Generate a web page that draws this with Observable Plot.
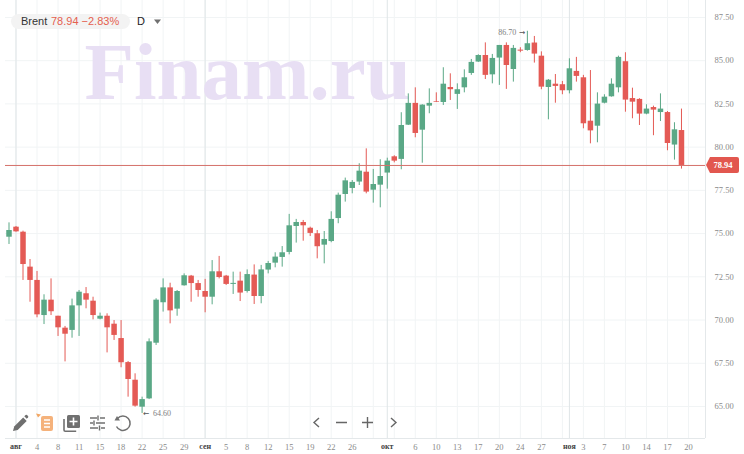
<!DOCTYPE html>
<html><head><meta charset="utf-8">
<script src="https://cdn.jsdelivr.net/npm/d3@7"></script>
<script src="https://cdn.jsdelivr.net/npm/@observablehq/plot@0.6"></script>
<style>
html,body{margin:0;padding:0;background:#fff}
#wrap{position:relative;width:744px;height:454px;overflow:hidden}
#wrap svg.plot{position:absolute;left:0;top:0}
.hdr{position:absolute;left:11px;top:14px;height:15px;width:119px;background:#f3f3f3;border-radius:8px;font:11px/15px "Liberation Sans",Arial,sans-serif;color:#333;white-space:nowrap}
.hdr span.n{position:absolute;left:10px}
.hdr span.r{position:absolute;left:40px;color:#e5604f}
.per{position:absolute;left:137px;top:14px;font:11px/15px "Liberation Sans",Arial,sans-serif;color:#222}
.tools{position:absolute;left:0;top:0}
</style></head><body><div id="wrap"></div>
<script>
const opens=[74.79,75.37,75.08,73.06,72.29,70.26,71.15,70.22,69.53,69.40,70.82,71.52,71.09,70.05,70.22,69.76,68.93,67.54,66.52,64.96,65.44,68.66,71.00,71.86,70.63,71.98,72.54,72.11,71.65,71.32,72.79,72.54,72.06,72.25,71.65,72.60,71.36,72.89,73.29,73.62,73.91,75.41,75.64,75.31,74.99,74.33,74.54,75.87,77.26,77.61,77.98,78.55,77.51,77.80,78.50,79.44,79.29,81.27,82.53,80.98,82.37,82.64,82.58,83.45,83.05,83.43,84.26,84.92,85.30,84.18,85.15,85.88,84.49,85.61,85.59,86.02,85.26,83.45,83.64,83.61,83.26,84.38,84.01,81.50,81.21,82.54,82.91,83.43,84.94,82.81,82.76,81.91,82.29,82.00,82.00,80.12,80.96];
const highs=[75.62,75.41,75.14,73.50,72.81,71.46,72.38,70.22,69.63,71.21,71.71,71.88,71.32,70.40,70.36,69.97,69.97,67.60,66.89,65.54,68.91,71.23,72.38,72.13,71.71,72.67,72.58,72.29,72.35,73.44,73.68,72.58,72.77,72.77,72.90,73.19,73.16,73.39,73.89,74.25,76.11,75.82,75.76,75.37,75.18,75.12,76.26,77.34,78.21,78.07,79.04,79.90,78.71,79.27,79.36,79.50,81.99,83.08,83.43,82.45,83.37,83.14,84.59,84.24,83.66,84.47,85.07,85.34,86.03,85.36,85.88,86.03,85.88,85.75,86.70,86.40,85.51,83.91,84.20,83.80,85.11,85.19,84.15,84.43,83.14,83.03,83.95,85.26,85.46,83.41,82.80,82.45,82.37,83.08,82.06,81.41,82.20];
const lows=[74.37,75.08,72.29,71.03,70.13,69.74,70.26,69.05,67.58,68.95,69.05,70.65,70.01,70.01,68.10,68.82,67.24,65.54,64.96,64.60,65.40,68.53,70.46,69.78,70.22,71.96,71.03,71.32,70.42,70.88,72.38,72.00,71.48,71.07,71.56,70.90,70.94,72.67,73.02,73.06,73.77,74.45,74.56,74.83,73.54,73.25,74.47,75.57,76.82,77.30,77.78,77.30,76.76,76.49,77.57,79.09,78.69,81.25,80.54,79.07,81.93,82.58,82.41,82.70,82.18,83.14,84.15,84.90,83.91,83.66,83.57,83.34,83.76,85.46,85.55,84.86,83.32,81.58,82.54,83.03,83.08,83.76,81.06,80.19,80.25,82.50,82.89,83.14,82.02,81.64,81.25,81.87,80.66,81.48,79.79,79.25,78.73];
const closes=[75.18,75.10,73.21,72.29,70.30,71.15,70.48,69.55,69.18,70.82,71.61,71.15,70.26,70.22,69.55,69.11,67.53,66.56,65.02,65.40,68.74,71.15,71.86,70.53,71.65,72.56,72.11,71.71,71.32,72.79,72.46,72.06,72.12,71.56,72.63,71.36,72.90,73.27,73.64,73.89,75.45,75.64,75.45,75.01,74.24,74.66,75.82,77.22,78.05,77.96,78.61,77.40,77.84,78.30,79.19,79.19,81.25,82.53,80.79,82.43,82.53,82.60,83.64,83.32,83.32,84.01,84.90,85.30,84.15,85.13,85.88,84.72,85.71,85.55,85.98,85.38,83.47,83.87,83.51,83.26,84.53,84.09,81.35,80.94,82.49,82.89,83.64,85.19,82.72,82.60,81.91,82.20,82.14,82.20,80.21,81.00,78.94];

const yTicks=[65,67.5,70,72.5,75,77.5,80,82.5,85,87.5];
const gridBars=[1,4,7,10,13,16,19,22,25,28,31,34,37,40,43,46,49,52,55,58,61,64,67,70,73,76,79,82,85,88,91,94,97];
const dayBars=[4,7,10,13,16,19,22,25,31,34,37,40,43,46,49,58,61,64,67,70,73,76,82,85,88,91,94,97];
const dayLabels=["4","8","11","15","18","22","25","29","5","8","12","15","19","22","26","6","10","13","17","20","24","27","3","7","10","14","17","20"];
const monthBars=[1,28,54,80];
const monthLabels=["авг","сен","окт","ноя"];
const lastPrice=78.94, highBar=74, highValue=86.70, lowBar=19, lowValue=64.60;

const up="#5aa886", down="#e45a55";
const bars=opens.map((o,i)=>({i,o,c:closes[i],h:highs[i],l:lows[i],col:closes[i]>=o?up:down}));
const labelFont="'Liberation Serif',serif";
const arrowFont="'DejaVu Sans',sans-serif";

const priceTag=(index,{y},values,dims)=>{
  const g=d3.create("svg:g");
  const yy=y(lastPrice), l=706;
  g.append("path").attr("d",`M${l},${yy} L${l+4},${yy-8} H${l+31} Q${l+33},${yy-8} ${l+33},${yy-6} V${yy+6} Q${l+33},${yy+8} ${l+31},${yy+8} H${l+4} Z`).attr("fill","#e2574f");
  g.append("text").attr("x",l+17).attr("y",yy+3).attr("text-anchor","middle").attr("fill","#fff")
   .attr("font-family",labelFont).attr("font-weight","bold").attr("font-size",8.5).text(lastPrice.toFixed(2));
  return g.node();
};

const plot=Plot.plot({
  width:744,height:454,marginLeft:5,marginRight:39,marginTop:0,marginBottom:16,
  style:{background:"transparent",overflow:"visible"},
  x:{type:"linear",domain:[-0.5,99.43],axis:null},
  y:{type:"linear",domain:[63.149,88.48],axis:null},
  marks:[
    Plot.ruleY(yTicks,{stroke:"#f1f4f5",strokeWidth:1}),
    Plot.ruleX(gridBars,{stroke:"#f1f4f5",strokeWidth:1}),
    Plot.ruleX(monthBars,{stroke:"#dfe5e7",strokeWidth:1}),
    Plot.ruleX([99.43],{stroke:"#e4e8ea",strokeWidth:1}),
    Plot.ruleY([63.149],{stroke:"#e4e8ea",strokeWidth:1}),
    Plot.text(["Finam.ru"],{frameAnchor:"top-left",dx:79,dy:41,textAnchor:"start",lineAnchor:"top",fontFamily:"'Liberation Serif',serif",fontWeight:"bold",fontSize:81,fill:"#e8dff4"}),
    Plot.ruleX(bars,{x:"i",y1:"l",y2:"h",stroke:"col",strokeWidth:1}),
    Plot.ruleX(bars,{x:"i",y1:"o",y2:"c",stroke:"col",strokeWidth:5.5}),
    Plot.ruleY([lastPrice],{stroke:"#d5706a",strokeWidth:1}),
    Plot.axisY(yTicks,{anchor:"right",tickSize:0,tickPadding:9,label:null,fontFamily:labelFont,fontSize:8.5,color:"#8a8a8a",tickFormat:d=>d.toFixed(2)}),
    Plot.axisX(dayBars,{anchor:"bottom",tickSize:0,tickPadding:5,label:null,fontFamily:labelFont,fontSize:8.5,color:"#8a8a8a",tickFormat:d=>dayLabels[dayBars.indexOf(d)]}),
    Plot.axisX(monthBars,{anchor:"bottom",tickSize:0,tickPadding:5,label:null,fontFamily:labelFont,fontSize:8,fontWeight:"bold",color:"#444",tickFormat:d=>monthLabels[monthBars.indexOf(d)]}),
    Plot.text([highValue],{x:[highBar],y:d=>d,text:d=>d.toFixed(2),textAnchor:"end",dx:-11,dy:1,fontFamily:labelFont,fontSize:8,fill:"#808080"}),
    Plot.text(["→"],{x:[highBar],y:[highValue],textAnchor:"end",dx:-2,dy:1,fontFamily:arrowFont,fontSize:7.5,fill:"#555"}),
    Plot.text(["←"],{x:[lowBar],y:[lowValue],textAnchor:"start",dx:1,fontFamily:arrowFont,fontSize:7.5,fill:"#555"}),
    Plot.text([lowValue],{x:[lowBar],y:d=>d,text:d=>d.toFixed(2),textAnchor:"start",dx:11,fontFamily:labelFont,fontSize:8,fill:"#808080"}),
    priceTag
  ]
});
plot.classList.add("plot");
const wrap=document.getElementById("wrap");
wrap.appendChild(plot);

const hdr=document.createElement("div");hdr.className="hdr";
hdr.innerHTML='<span class="n">Brent</span><span class="r">78.94 −2.83%</span>';
wrap.appendChild(hdr);
const per=document.createElement("div");per.className="per";per.textContent="D";wrap.appendChild(per);

const ns="http://www.w3.org/2000/svg";
const t=document.createElementNS(ns,"svg");
t.setAttribute("class","tools");t.setAttribute("width",744);t.setAttribute("height",454);
t.innerHTML=`
<path d="M154,19.5 h7 l-3.5,4.5z" fill="#707070"/>
<g fill="#6f6f6f"><path d="M13,431 l1.2,-4.6 l9,-9 l3.5,3.5 l-9,9z"/><path d="M24.3,416.3 l1.3,-1.3 a1,1 0 0 1 1.4,0 l1,1 a1,1 0 0 1 0,1.4 l-1.3,1.3z"/></g>
<path d="M36,413.5 l5,1 l-3,3z" fill="#f2a765"/>
<rect x="41" y="416" width="12" height="15" rx="2" fill="#f5b27b"/>
<g stroke="#fff" stroke-width="1.4"><path d="M44,420 h6 M44,423.5 h6 M44,427 h6"/></g>
<path d="M64,419 v11 a1.2,1.2 0 0 0 1.2,1.2 h11" fill="none" stroke="#707070" stroke-width="1.6"/>
<rect x="67" y="415" width="13" height="13" rx="1.5" fill="#707070"/>
<path d="M73.5,417.5 v8 M69.5,421.5 h8" stroke="#fff" stroke-width="1.6"/>
<g stroke="#707070" stroke-width="1.4" fill="none"><path d="M90,418 h7 M100,418 h5 M90,423 h3 M96,423 h9 M90,428 h8 M101,428 h4 M98,415.5 v5 M94,420.5 v5 M99.5,425.5 v5"/></g>
<path d="M117.5,418.5 a7.2,7.2 0 1 1 -1,8" fill="none" stroke="#707070" stroke-width="1.5"/>
<path d="M114.5,420.5 l5.5,0 l-3,-4.5z" fill="#707070"/>
<g stroke="#666" stroke-width="1.4" fill="none"><path d="M319,418 l-5,4.5 l5,4.5 M336,422.5 h11 M362,422.5 h11 M367.5,417 v11 M391,418 l5,4.5 l-5,4.5"/></g>`;
wrap.appendChild(t);
</script></body></html>
